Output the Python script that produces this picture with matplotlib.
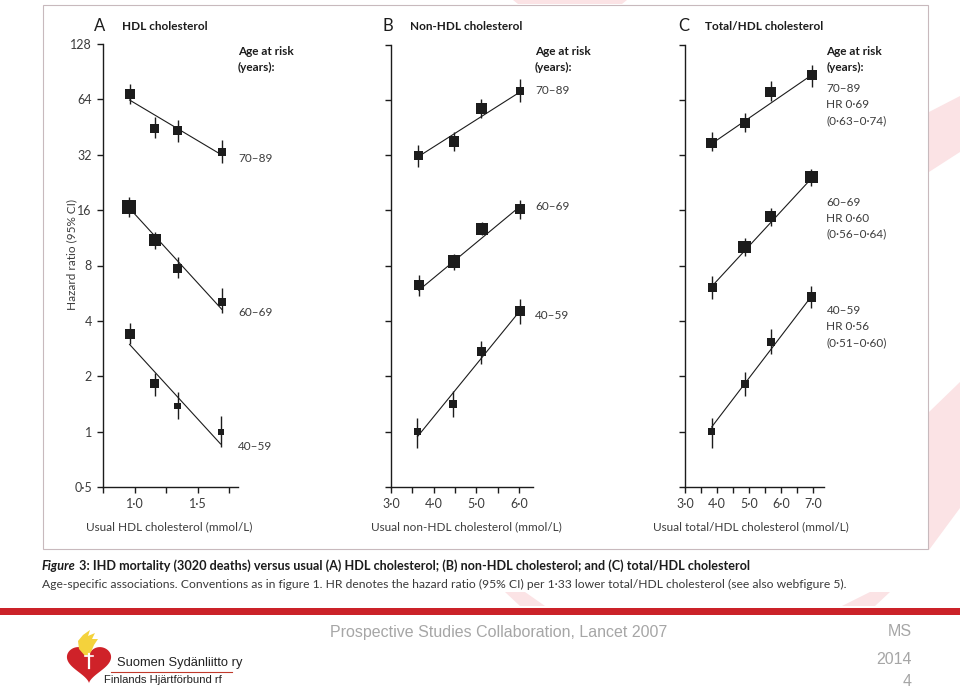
import matplotlib
matplotlib.use("Agg")
import matplotlib.pyplot as plt
from matplotlib.patches import Polygon, Rectangle
from matplotlib.lines import Line2D
import numpy as np

W, H = 960, 692

# ---- data ----
age_groups = ["40–59", "60–69", "70–89"]

# A: HDL cholesterol
a_x = [[0.96, 1.16, 1.34, 1.68], [0.955, 1.16, 1.34, 1.69], [0.96, 1.16, 1.34, 1.69]]
a_hr = [[3.39, 1.82, 1.38, 1.00], [16.7, 11.0, 7.72, 5.08], [68.2, 44.2, 43.2, 33.0]]
a_lo = [[2.99, 1.57, 1.17, 0.82], [14.7, 9.8, 6.82, 4.40], [60.2, 39.5, 37.7, 28.9]]
a_hi = [[3.88, 2.08, 1.65, 1.21], [18.9, 12.2, 8.93, 6.01], [77.3, 51.3, 49.4, 38.5]]
a_box = [[10, 9, 6.7, 6], [13.7, 11.7, 9, 8.3], [10, 9, 9.3, 8.3]]
a_fit = [[2.98, 0.857], [16.5, 4.62], [63.5, 31.9]]

# B: non-HDL cholesterol
b_x = [[3.62, 4.46, 5.12, 6.02], [3.65, 4.48, 5.13, 6.02], [3.64, 4.48, 5.12, 6.02]]
b_hr = [[1.0, 1.42, 2.74, 4.54], [6.28, 8.43, 12.7, 16.3], [31.9, 37.9, 57.3, 71.7]]
b_lo = [[0.82, 1.2, 2.35, 3.86], [5.45, 7.6, 11.7, 14.3], [27.6, 33.5, 51.2, 61.9]]
b_hi = [[1.19, 1.66, 3.11, 5.26], [7.12, 9.24, 13.9, 18.3], [36.5, 42.5, 64.6, 83.1]]
b_box = [[7.6, 8.3, 9, 9.3], [9.6, 12.7, 12.4, 10], [9.6, 10.3, 10.3, 8.3]]
b_fit = [[0.94, 4.54], [5.88, 16.8], [31.4, 70.5]]

# C: total/HDL cholesterol
c_x = [[3.83, 4.86, 5.67, 6.94], [3.85, 4.86, 5.67, 6.94], [3.83, 4.86, 5.67, 6.95]]
c_hr = [[1.0, 1.82, 3.08, 5.4], [6.09, 10.1, 14.8, 24.3], [37.4, 48.0, 70.5, 87.4]]
c_lo = [[0.82, 1.56, 2.65, 4.69], [5.26, 9.07, 13.1, 21.7], [33.5, 42.5, 63.2, 75.5]]
c_hi = [[1.19, 2.12, 3.61, 6.2], [7.0, 11.3, 16.4, 26.8], [42.5, 54.4, 80.6, 99.6]]
c_box = [[7.2, 7.9, 8.3, 9.6], [9.3, 12.7, 11.4, 12.7], [10.3, 10.3, 10.7, 9.6]]
c_fit = [[1.06, 5.46], [6.22, 23.9], [36.9, 87.4]]
c_hr_text = ["HR 0·56\n(0·51–0·60)", "HR 0·60\n(0·56–0·64)", "HR 0·69\n(0·63–0·74)"]

y_ticks = [0.5, 1, 2, 4, 8, 16, 32, 64, 128]
y_ticklabels = ["0·5", "1", "2", "4", "8", "16", "32", "64", "128"]

a_xticks = [0.75, 1.0, 1.25, 1.5, 1.75]
a_xticklabels = ["", "1·0", "", "1·5", ""]
b_xticks = [3.0, 3.5, 4.0, 4.5, 5.0, 5.5, 6.0]
b_xticklabels = ["3·0", "", "4·0", "", "5·0", "", "6·0"]
c_xticks = [3.0, 3.5, 4.0, 4.5, 5.0, 5.5, 6.0, 6.5, 7.0]
c_xticklabels = ["3·0", "", "4·0", "", "5·0", "", "6·0", "", "7·0"]

FONT = "Lato"
INK = "#1c1c1c"
GREY = "#3c3c3c"


def fx(x):
    return x / W


def fy(y):
    return 1 - y / H


fig = plt.figure(figsize=(W / 100, H / 100), dpi=100, facecolor="white")

# faint background shapes of the slide template
pink = "#fbe3e5"
for pts in [
    [(929, 112), (960, 96), (960, 152), (929, 172)],
    [(929, 412), (960, 382), (960, 508), (929, 550)],
    [(505, 592), (525, 592), (545, 606), (520, 606)],
    [(842, 606), (870, 592), (890, 592), (875, 606)],
    [(513, 0), (627, 0), (622, 4), (518, 4)],
]:
    fig.patches.append(Polygon([(fx(a), fy(b)) for a, b in pts], closed=True,
                               transform=fig.transFigure, facecolor=pink,
                               edgecolor="none", zorder=0))

# frame around the journal figure
fig.patches.append(Rectangle((fx(43), fy(549)), fx(928) - fx(43), fy(5) - fy(549),
                             transform=fig.transFigure, facecolor="none",
                             edgecolor="#c8b9bd", lw=0.8, zorder=1))


def make_axes(left, right, top, bottom):
    return fig.add_axes([fx(left), fy(bottom), fx(right) - fx(left), fy(top) - fy(bottom)])


def style_axes(ax, xlim, xticks, xticklabels, ylabels):
    ax.set_facecolor("none")
    ax.set_yscale("log", base=2)
    ax.set_ylim(0.5, 128)
    ax.set_xlim(*xlim)
    ax.spines[["top", "right"]].set_visible(False)
    for s in ["left", "bottom"]:
        ax.spines[s].set_linewidth(1.0)
        ax.spines[s].set_color(INK)
    ax.set_yticks(y_ticks)
    ax.yaxis.set_minor_locator(matplotlib.ticker.NullLocator())
    ax.set_yticklabels(y_ticklabels if ylabels else [""] * len(y_ticks))
    ax.set_xticks(xticks)
    ax.set_xticklabels(xticklabels)
    ax.tick_params(length=4, width=1.0, color=INK, labelcolor=GREY,
                   labelsize=9, pad=4)
    for lab in ax.get_xticklabels() + ax.get_yticklabels():
        lab.set_fontfamily(FONT)


def draw_groups(ax, xs, hrs, los, his, boxes, fits):
    for x, hr, lo, hi, box, fit in zip(xs, hrs, los, his, boxes, fits):
        ax.vlines(x, lo, hi, color=INK, lw=1.0, zorder=2, clip_on=False)
        ax.plot([x[0], x[-1]], fit, color=INK, lw=0.8, zorder=2, clip_on=False)
        ax.scatter(x, hr, s=(np.array(box) * 0.72) ** 2, marker="s", color=INK,
                   linewidths=0, zorder=3, clip_on=False)


axA = make_axes(103, 238, 44, 487)
style_axes(axA, (0.75, 1.818), a_xticks, a_xticklabels, True)
draw_groups(axA, a_x, a_hr, a_lo, a_hi, a_box, a_fit)

axB = make_axes(391, 533.3, 44.5, 487)
style_axes(axB, (3.0, 6.335), b_xticks, b_xticklabels, False)
draw_groups(axB, b_x, b_hr, b_lo, b_hi, b_box, b_fit)

axC = make_axes(685, 824, 44.5, 487)
style_axes(axC, (3.0, 7.33), c_xticks, c_xticklabels, False)
draw_groups(axC, c_x, c_hr, c_lo, c_hi, c_box, c_fit)

# panel headings
for letter, lx, title, tx in [("A", 99.5, "HDL cholesterol", 122),
                              ("B", 388, "Non-HDL cholesterol", 410.5),
                              ("C", 683.5, "Total/HDL cholesterol", 705)]:
    fig.text(fx(lx), fy(26), letter, family=FONT, fontsize=12, color=INK,
             ha="center", va="center")
    fig.text(fx(tx), fy(26), title, family=FONT, fontsize=8.5, weight="bold",
             color=INK, ha="left", va="center")

for hx in [238, 535, 826.5]:
    fig.text(fx(hx), fy(51.5), "Age at risk", family=FONT, fontsize=8.5,
             weight="bold", color=INK, va="center")
    fig.text(fx(hx), fy(67.5), "(years):", family=FONT, fontsize=8.5,
             weight="bold", color=INK, va="center")

for i, yy in enumerate([446, 312, 159]):
    fig.text(fx(238), fy(yy), age_groups[i], family=FONT, fontsize=8.5,
             color=GREY, va="center")
for i, yy in enumerate([316, 207, 91]):
    fig.text(fx(535), fy(yy), age_groups[i], family=FONT, fontsize=8.5,
             color=GREY, va="center")
for i, yy in enumerate([311, 202, 89]):
    lines = [age_groups[i]] + c_hr_text[i].split("\n")
    for k, ln in enumerate(lines):
        fig.text(fx(826.5), fy(yy + 16 * k), ln, family=FONT, fontsize=8.5,
                 color=GREY, va="center")

# axis titles
fig.text(fx(71.5), fy(254), "Hazard ratio (95% CI)", family=FONT, fontsize=8.5,
         color=GREY, rotation=90, ha="center", va="center")
for cx, lab in [(169.5, "Usual HDL cholesterol (mmol/L)"),
                (466, "Usual non-HDL cholesterol (mmol/L)"),
                (750.5, "Usual total/HDL cholesterol (mmol/L)")]:
    fig.text(fx(cx), fy(526.5), lab, family=FONT, fontsize=8.5, color=GREY,
             ha="center", va="center")

# caption, sized to the measured widths
renderer = fig.canvas.get_renderer()


def text_width(t):
    return t.get_window_extent(renderer).width


def fit_width(t, size, target):
    t.set_fontsize(size * target / text_width(t))


cap_a = fig.text(fx(42), fy(566), "Figure", family=FONT, style="italic",
                 weight="bold", fontsize=10, color=INK, va="center")
cap_b = fig.text(fx(42), fy(566),
                 " 3: IHD mortality (3020 deaths) versus usual (A) HDL cholesterol; "
                 "(B) non-HDL cholesterol; and (C) total/HDL cholesterol",
                 family=FONT, weight="bold", fontsize=10, color=INK, va="center")
scale = 706 / (text_width(cap_a) + text_width(cap_b))
for t in (cap_a, cap_b):
    t.set_fontsize(10 * scale)
cap_b.set_x(fx(42 + text_width(cap_a)))

cap_2 = fig.text(fx(42), fy(584),
                 "Age-specific associations. Conventions as in figure 1. HR denotes the "
                 "hazard ratio (95% CI) per 1·33 lower total/HDL cholesterol "
                 "(see also webfigure 5).",
                 family=FONT, fontsize=10, color="#3a3a3a", va="center")
fit_width(cap_2, 10, 801)

# slide footer
fig.patches.append(Rectangle((0, fy(615)), 1, fy(608) - fy(615),
                             transform=fig.transFigure, facecolor="#cb2229",
                             edgecolor="none", zorder=2))
FOOT = ["Liberation Sans", "DejaVu Sans"]
fig.text(fx(330), fy(632), "Prospective Studies Collaboration, Lancet 2007",
         family=FOOT, fontsize=11.5, color="#a6a6a6", va="center")
for txt, yy in [("MS", 632), ("2014", 660), ("4", 682)]:
    fig.text(fx(912), fy(yy), txt, family=FOOT, fontsize=11.5, color="#a6a6a6",
             ha="right", va="center")

# logo: heart, flame and names
t = np.linspace(0, 2 * np.pi, 200)
hx = 16 * np.sin(t) ** 3
hy = 13 * np.cos(t) - 5 * np.cos(2 * t) - 2 * np.cos(3 * t) - np.cos(4 * t)
heart_x = 89 + hx * 1.38
heart_y = 647 + (12 - hy) * 1.25
fig.patches.append(Polygon(np.column_stack([fx(heart_x), fy(heart_y)]),
                           transform=fig.transFigure, facecolor="#cf2229",
                           edgecolor="none", zorder=3))
flame = [(86, 657), (79, 649), (78, 641), (83, 635), (90, 630), (88, 636),
         (95, 633), (92, 639), (98, 639), (94, 645), (91, 652)]
fig.patches.append(Polygon([(fx(a), fy(b)) for a, b in flame], transform=fig.transFigure,
                           facecolor="#f4d23c", edgecolor="none", zorder=4))
fig.lines.append(Line2D([fx(88.5), fx(88.5)], [fy(654), fy(668)], transform=fig.transFigure,
                        color="white", lw=1.6, zorder=5))
fig.lines.append(Line2D([fx(84.5), fx(92.5)], [fy(656), fy(656)], transform=fig.transFigure,
                        color="white", lw=1.2, zorder=5))
fig.lines.append(Line2D([fx(111), fx(232)], [fy(672), fy(672)], transform=fig.transFigure,
                        color="#c0392b", lw=0.8, zorder=5))
NARROW = ["Liberation Sans Narrow", "Liberation Sans", "DejaVu Sans"]
logo1 = fig.text(fx(117), fy(663), "Suomen Sydänliitto ry", family=NARROW,
                 fontsize=10, color="#222222", va="center")
fit_width(logo1, 10, 126)
logo2 = fig.text(fx(104), fy(680), "Finlands Hjärtförbund rf", family=NARROW,
                 fontsize=9, color="#222222", va="center")
fit_width(logo2, 9, 119)

fig.savefig("out.png", dpi=100, facecolor="white")
